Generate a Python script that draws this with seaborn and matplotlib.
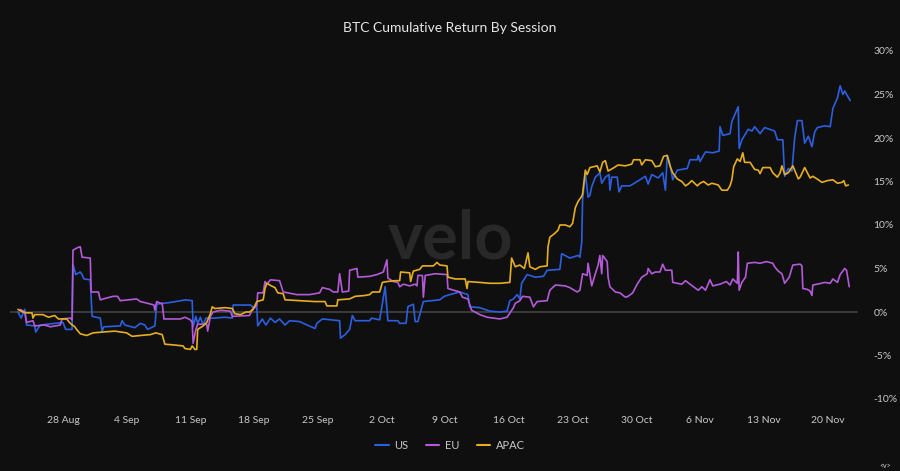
import matplotlib
matplotlib.use("Agg")
import matplotlib.pyplot as plt
import seaborn as sns
import pandas as pd
import numpy as np

# ---------------- data (days since 2023-08-23, cumulative return %) ----------------
us_days = [0.05, 0.4, 0.8, 1.0, 1.9, 2.0, 2.5, 4.1, 5.0, 5.3, 6.0, 6.1, 6.4, 6.9, 7.1, 7.3, 8.0, 8.2, 9.1, 9.3,
           9.5, 11.3, 11.5, 11.8, 12.9, 13.5, 14.0, 14.3, 15.1, 15.3, 16.8, 18.5, 19.2, 19.3, 19.6, 19.8, 20.1, 20.4,
           20.7, 21.7, 22.8, 23.6, 23.7, 25.6, 26.0, 26.3, 26.4, 26.9, 27.3, 27.8, 28.3, 28.8, 29.4, 29.9, 31.0,
           32.7, 32.9, 33.5, 35.4, 35.5, 36.0, 36.5, 36.8, 37.1, 38.7, 38.9, 39.8, 40.4, 40.7, 41.8, 42.0, 42.7,
           42.9, 43.5, 43.7, 44.0, 44.6, 46.4, 46.9, 47.5, 48.6, 49.5, 49.7, 50.8, 51.9, 53.0, 53.8, 54.1, 54.5,
           54.9, 55.2, 55.4, 56.0, 56.9, 57.8, 58.2, 59.6, 59.8, 60.7, 61.6, 61.8, 62.0, 62.1, 62.4, 62.7, 62.9,
           63.1, 63.5, 64.0, 64.2, 64.6, 65.0, 65.1, 65.3, 65.9, 66.1, 66.4, 67.3, 68.1, 69.0, 69.3, 69.7, 70.4,
           70.9, 71.2, 71.4, 71.7, 72.0, 72.5, 73.6, 73.9, 74.7, 74.8, 75.0, 75.6, 76.4, 77.1, 77.2, 77.5, 78.3,
           78.5, 79.2, 79.3, 79.6, 80.3, 80.7, 81.0, 81.6, 82.1, 83.2, 83.5, 84.1, 84.3, 84.7, 85.1, 85.4, 85.7,
           86.2, 86.5, 86.9, 87.3, 87.6, 87.9, 88.7, 89.3, 89.6, 90.1, 90.4, 90.7, 90.9, 91.5]
us_vals = [0.0, -0.7, 0.3, -1.5, -1.6, -2.3, -1.5, -1.3, -1.2, -2.0, -2.0, 5.5, 4.3, 4.6, 4.3, 3.8, 3.7, -0.5, -0.7, -2.2,
           -1.7, -1.6, -1.0, -1.5, -1.8, -1.3, -1.5, -2.0, -1.6, 0.9, 1.1, 1.4, 1.3, -1.7, -0.5, -1.3, -0.6, -1.5,
           -0.7, -0.7, -0.6, -0.7, 0.8, 0.8, 0.5, 0.5, -1.6, -0.8, -1.5, -0.7, -1.2, -0.8, -1.5, -1.0, -1.1,
           -1.9, -1.3, -0.8, -1.0, -3.0, -2.6, -2.0, -0.4, -1.0, -1.0, -0.7, -0.9, 2.9, -1.0, -1.0, -1.3, -1.3,
           0.6, 0.9, -1.1, -1.1, 1.2, 1.4, 1.8, 2.0, 2.3, 2.0, 0.6, 0.5, 0.1, 0.0, 0.1, 1.3, 1.5,
           2.0, 1.5, 3.3, 4.3, 4.0, 4.1, 4.8, 4.9, 6.7, 6.2, 6.5, 6.3, 8.0, 12.9, 16.0, 13.2, 13.4,
           14.4, 15.5, 16.0, 14.8, 15.5, 15.8, 14.0, 15.5, 15.5, 13.8, 14.5, 14.5, 15.0, 15.6, 14.7, 15.8, 15.4,
           16.0, 14.0, 18.0, 17.0, 15.2, 16.3, 16.5, 17.5, 17.5, 18.0, 17.3, 18.4, 18.3, 18.5, 21.3, 20.3, 20.5,
           21.9, 23.6, 18.8, 19.8, 21.0, 20.8, 21.3, 20.5, 21.2, 20.8, 19.8, 19.8, 15.6, 16.5, 16.2, 20.0, 22.0,
           22.0, 19.4, 20.2, 19.0, 20.7, 21.2, 21.4, 21.3, 23.4, 24.6, 26.0, 25.0, 25.4, 24.3]

eu_days = [0.3, 0.8, 1.0, 1.7, 1.9, 3.0, 3.6, 4.7, 4.9, 5.8, 6.0, 6.1, 6.6, 6.9, 7.1, 8.0, 8.1, 8.9, 9.1, 10.5,
           11.0, 11.3, 13.1, 13.5, 14.3, 15.0, 15.1, 15.3, 15.7, 15.9, 16.1, 17.9, 18.4, 19.0, 19.2, 19.3, 19.6,
           19.8, 20.8, 20.9, 21.2, 21.5, 22.3, 23.4, 23.6, 25.5, 25.9, 26.3, 26.4, 27.0, 27.2, 27.4, 27.8, 28.8,
           29.2, 30.7, 32.1, 33.2, 33.5, 34.3, 34.7, 35.2, 35.4, 35.7, 36.4, 36.5, 37.3, 37.4, 38.7, 39.5, 40.2,
           40.6, 40.7, 41.3, 41.8, 42.0, 42.4, 43.1, 43.7, 43.9, 44.0, 44.5, 44.6, 44.8, 45.9, 47.2, 47.3, 48.6,
           48.9, 49.5, 49.9, 50.8, 51.6, 53.0, 53.8, 54.5, 54.7, 55.2, 55.5, 56.3, 56.7, 57.1, 58.2, 58.5, 59.1,
           60.2, 60.7, 61.5, 61.8, 62.1, 62.6, 62.7, 63.1, 63.5, 63.8, 64.0, 64.2, 64.3, 64.8, 64.9, 65.1, 65.7,
           66.2, 66.8, 67.1, 67.6, 68.1, 68.6, 69.2, 69.3, 69.7, 70.1, 70.6, 70.9, 71.2, 71.9, 72.0, 73.0, 73.4,
           73.9, 74.8, 75.2, 75.6, 76.1, 76.4, 77.2, 77.9, 78.3, 78.6, 79.1, 79.2, 79.3, 79.6, 80.0, 80.2, 81.0,
           81.6, 82.3, 83.0, 83.2, 83.6, 84.0, 84.3, 84.8, 85.2, 86.0, 86.2, 86.3, 86.8, 87.1, 87.3, 87.4, 87.9,
           88.7, 89.3, 89.6, 90.1, 90.4, 90.9, 91.1, 91.4]
eu_vals = [0.3, 0.0, -1.2, -1.0, -1.6, -1.5, -1.7, -1.5, -0.8, -0.7, -0.9, 7.1, 7.4, 7.5, 6.3, 6.2, 2.3, 2.3, 1.4, 1.8,
           1.8, 1.3, 1.5, 1.2, 1.0, 0.8, 0.2, 1.2, 1.0, 1.0, -0.8, -0.8, -0.6, -0.9, -1.2, -3.6, -2.0,
           -1.4, -1.4, -2.2, -0.5, 0.0, 0.2, 0.1, -0.5, -0.4, 0.5, 0.7, 2.2, 2.2, 3.5, 3.2, 3.7, 3.6,
           2.3, 2.0, 2.0, 2.2, 2.8, 2.6, 2.3, 2.3, 4.4, 2.3, 2.4, 4.8, 5.0, 4.0, 4.1, 4.3, 4.6,
           6.0, 3.9, 3.5, 3.4, 2.9, 3.2, 3.0, 3.2, 3.0, 4.2, 4.2, 1.7, 4.2, 4.4, 4.3, 2.7, 2.3,
           1.7, 1.5, 0.2, -0.3, -0.6, -0.8, -0.6, 0.5, 1.0, 1.3, 1.8, 1.7, 0.6, 1.2, 1.3, 2.5, 3.1,
           3.0, 2.8, 2.3, 2.5, 4.4, 4.2, 5.6, 3.0, 4.4, 5.4, 6.5, 4.4, 6.5, 5.8, 4.0, 2.9, 2.3,
           2.2, 1.7, 1.8, 2.2, 3.2, 4.0, 4.4, 5.0, 4.4, 4.6, 4.6, 5.5, 4.8, 4.8, 3.4, 3.2, 3.6,
           3.2, 2.5, 2.9, 2.5, 3.7, 3.0, 3.2, 3.5, 3.1, 3.8, 3.3, 6.9, 2.5, 3.4, 4.0, 5.6, 5.7,
           5.6, 5.8, 5.6, 5.2, 4.7, 4.4, 3.3, 4.0, 5.4, 5.5, 5.3, 2.7, 2.6, 2.4, 1.9, 3.1, 3.2,
           3.4, 3.3, 3.8, 3.4, 4.3, 5.0, 4.8, 2.9]

apac_days = [0.05, 0.6, 1.0, 1.6, 1.7, 1.9, 2.8, 3.4, 4.1, 4.5, 5.4, 5.8, 6.3, 6.5, 6.9, 7.6, 8.3, 9.4, 10.7, 12.0,
             12.6, 13.5, 14.6, 15.2, 15.9, 16.2, 17.3, 18.2, 18.4, 19.0, 19.2, 19.5, 19.7, 19.8, 20.4, 20.8, 21.2,
             21.4, 21.7, 22.8, 23.6, 23.9, 24.5, 25.1, 25.5, 25.9, 26.3, 27.0, 27.2, 27.4, 27.9, 28.3, 28.6, 29.2,
             29.4, 31.0, 32.7, 33.8, 34.0, 35.1, 35.2, 36.5, 37.1, 38.2, 38.7, 39.0, 39.8, 40.1, 40.6, 41.5, 42.0,
             42.1, 43.1, 43.2, 43.5, 44.2, 44.5, 45.7, 46.1, 46.4, 47.2, 47.3, 48.1, 49.2, 49.4, 49.5, 50.8, 51.9,
             53.0, 54.1, 54.3, 54.7, 55.2, 55.7, 56.1, 56.3, 56.9, 57.4, 58.2, 58.3, 58.5, 59.0, 59.4, 59.6, 60.2,
             60.7, 61.0, 61.3, 61.6, 62.0, 62.1, 62.4, 62.6, 62.9, 63.7, 64.0, 64.3, 64.6, 64.9, 65.4, 66.0, 66.8,
             67.5, 67.7, 68.4, 68.6, 69.0, 69.7, 70.1, 70.6, 71.0, 71.4, 71.7, 72.0, 72.5, 73.0, 73.4, 73.7, 74.1,
             74.7, 75.0, 75.4, 75.9, 76.3, 77.0, 77.4, 78.0, 78.3, 78.5, 78.7, 79.1, 79.4, 79.7, 79.9, 80.5, 81.0,
             81.4, 81.6, 81.9, 82.7, 83.0, 83.5, 83.8, 84.0, 84.3, 84.7, 85.2, 85.8, 86.0, 86.5, 87.1, 87.4, 88.0,
             88.4, 89.0, 89.6, 90.1, 90.6, 90.8, 91.0, 91.3]
apac_vals = [0.3, 0.0, -0.1, -0.1, -0.7, -0.3, -0.3, -0.6, -0.4, -0.8, -0.8, -1.3, -1.7, -2.0, -2.5, -2.7, -2.4, -2.3, -2.2, -2.4,
             -2.8, -2.7, -2.6, -2.4, -2.6, -3.7, -3.8, -3.9, -4.2, -4.3, -3.9, -4.3, -4.3, -2.0, -1.6, -1.2, -0.2,
             0.6, 0.4, 0.5, 0.4, -0.2, -0.3, 0.0, 0.0, 0.3, 1.2, 1.4, 2.7, 3.3, 3.0, 2.8, 2.2, 2.1,
             1.4, 1.3, 1.2, 1.2, 0.7, 0.7, 1.4, 1.5, 1.8, 1.9, 2.0, 2.3, 2.3, 3.4, 3.5, 3.6, 3.6,
             4.6, 4.5, 3.5, 4.7, 4.9, 5.3, 5.3, 5.7, 5.4, 5.3, 4.0, 3.8, 3.8, 2.7, 3.5, 3.4, 3.3,
             3.3, 3.4, 6.2, 5.2, 5.4, 5.0, 6.8, 5.2, 4.9, 5.2, 5.3, 7.5, 8.6, 9.0, 9.4, 10.0, 10.0,
             9.8, 10.2, 12.0, 12.7, 13.3, 13.6, 16.3, 15.8, 16.6, 16.8, 16.1, 17.2, 17.4, 16.2, 16.5, 16.9, 16.8,
             17.0, 17.5, 17.5, 16.9, 17.5, 17.4, 16.7, 16.8, 17.9, 18.0, 16.8, 16.0, 15.3, 15.0, 14.5, 14.7, 15.1,
             14.5, 14.8, 15.0, 14.6, 14.8, 14.6, 14.0, 14.0, 14.5, 15.2, 16.7, 17.6, 17.3, 18.3, 17.2, 17.2, 16.4,
             16.3, 15.9, 16.6, 16.6, 16.0, 15.5, 16.0, 16.8, 15.8, 16.0, 16.8, 15.3, 15.5, 16.6, 15.4, 15.6, 15.2,
             14.9, 15.1, 15.2, 14.8, 14.9, 15.1, 14.5, 14.6]

sessions = ["US", "EU", "APAC"]
session_colors = ["#2c5fe0", "#b45ad8", "#e7ae22"]
tick_labels = ["28 Aug", "4 Sep", "11 Sep", "18 Sep", "25 Sep", "2 Oct", "9 Oct",
               "16 Oct", "23 Oct", "30 Oct", "6 Nov", "13 Nov", "20 Nov"]
y_ticks = [-10, -5, 0, 5, 10, 15, 20, 25, 30]

# ---------------- build frame ----------------
start = pd.Timestamp("2023-08-23")
frames = []
for name, d, v in [("US", us_days, us_vals), ("EU", eu_days, eu_vals), ("APAC", apac_days, apac_vals)]:
    frames.append(pd.DataFrame({"time": start + pd.to_timedelta(np.array(d), unit="D"),
                                "ret": v, "session": name}))
df = pd.concat(frames, ignore_index=True)

# ---------------- style ----------------
bg = "#0f0f0f"
sns.set_theme(style="dark")
plt.rcParams["font.family"] = ["Lato", "DejaVu Sans"]

fig = plt.figure(figsize=(9, 4.71), dpi=100, facecolor=bg)
ax = fig.add_axes([10 / 900, 72 / 471, 848 / 900, 348 / 471])
ax.set_facecolor(bg)

# watermark
ax.text(0.519, 0.457, "velo", transform=ax.transAxes, ha="center", va="center",
        fontsize=48, fontweight="bold", color="#282828", zorder=0)

ax.axhline(0, color="#3c3c3c", lw=1.4, zorder=1)

sns.lineplot(data=df, x="time", y="ret", hue="session", hue_order=sessions,
             palette=dict(zip(sessions, session_colors)), estimator=None, sort=False,
             linewidth=1.2, ax=ax, zorder=3)

ax.set_ylim(-10, 30)
ax.set_xlim(start - pd.Timedelta(days=0.82), start + pd.Timedelta(days=92.36))
ax.yaxis.tick_right()
ax.set_yticks(y_ticks)
ax.set_yticklabels([f"{t}%" for t in y_ticks])
tick_dates = pd.date_range("2023-08-28", periods=len(tick_labels), freq="7D")
ax.set_xticks(tick_dates)
ax.set_xticklabels(tick_labels)
ax.tick_params(axis="y", length=0, pad=11, labelsize=7.5, colors="#c8c8c8")
ax.tick_params(axis="x", length=0, pad=12, labelsize=7.5, colors="#c8c8c8")
ax.set_xlabel("")
ax.set_ylabel("")
ax.grid(False)
for s in ax.spines.values():
    s.set_visible(False)

fig.text(0.5, 1 - 28 / 471, "BTC Cumulative Return By Session", ha="center", va="center",
         fontsize=10, color="#e6e6e6")

sns.move_legend(ax, "center", bbox_to_anchor=(0.519, -0.133), ncol=3, frameon=False,
                title=None, handlelength=1.2, handletextpad=0.5, columnspacing=1.6,
                fontsize=8)
for t in ax.get_legend().get_texts():
    t.set_color("#c8c8c8")
for l in ax.get_legend().get_lines():
    l.set_linewidth(1.5)

fig.text(885 / 900, 1 - 465 / 471, "<v>", ha="center", va="center", fontsize=5, color="#cfcfcf")

fig.savefig("out.png", dpi=100, facecolor=bg)
